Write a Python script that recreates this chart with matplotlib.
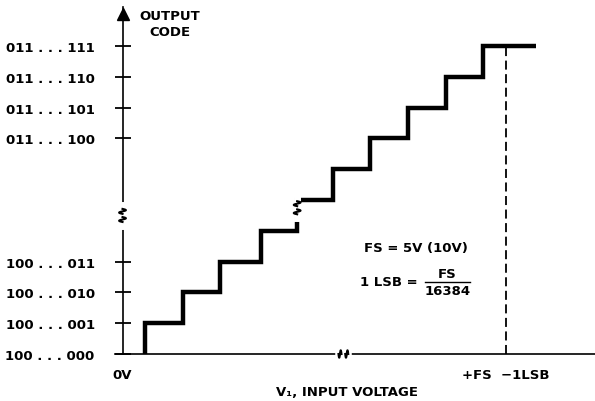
import matplotlib.pyplot as plt
import numpy as np

# staircase: x in LSB, y in code steps
step_edges = [0.6, 1.6, 2.6, 3.7, 4.65, 5.6, 6.6, 7.6, 8.6, 9.6]
step_end = 11.0
code_levels = [0, 1, 2, 3, 4, 5, 6, 7, 8, 9, 10]

ytick_pos = [0, 1, 2, 3, 7, 8, 9, 10]
ytick_labels = ["100 . . . 000", "100 . . . 001", "100 . . . 010", "100 . . . 011",
                "011 . . . 100", "011 . . . 101", "011 . . . 110", "011 . . . 111"]
xtick_pos = [0, 10.2]
xtick_labels = ["0V", "+FS  \u22121LSB"]
fs_line = 10.2

x_break = 5.88
y_break = 4.5
stair_break = (4.65, 4.75)

plt.rcParams['font.family'] = ['DejaVu Sans']
plt.rcParams['font.weight'] = 'bold'

fig = plt.figure(figsize=(5.95, 4.02), dpi=100)
ax = fig.add_axes([115 / 595, 47 / 402, 480 / 595, 347 / 402])
ax.set_xlim(-0.2, 12.58)
ax.set_ylim(0, 11.27)

for s in ["top", "right"]:
    ax.spines[s].set_visible(False)
ax.spines["left"].set_position(("data", 0))
ax.spines["left"].set_linewidth(1.2)
ax.spines["bottom"].set_linewidth(1.2)

ax.set_yticks(ytick_pos)
ax.set_yticklabels(ytick_labels, fontsize=9.5, fontweight="bold")
ax.tick_params(axis="y", direction="inout", length=12, width=1.3, pad=14)
ax.set_xticks(xtick_pos)
ax.set_xticklabels(xtick_labels, fontsize=9.5, fontweight="bold")
ax.tick_params(axis="x", length=0, pad=10)

# arrow head on the y axis
ax.plot([0], [11.05], marker="^", color="black", markersize=8, clip_on=False)

# staircase transfer curve
xs = [step_edges[0]] + step_edges + [step_end]
ys = [0] + code_levels[1:] + [code_levels[-1]]
ax.plot(xs, ys, drawstyle="steps-post", color="black", lw=3.2,
        solid_joinstyle="miter", solid_capstyle="butt")

# full-scale dashed marker
ax.vlines(fs_line, 0, code_levels[-1], colors="black", lw=1.3, linestyles=(0, (5, 2.5)))


def break_mark(x0, y0, along_x, dx=0.09, dy=0.22):
    t = np.linspace(-1, 1, 25)
    if along_x:
        ax.plot([x0 - dx * 1.6, x0 + dx * 1.6], [y0, y0], color="white", lw=4, zorder=3, clip_on=False)
        for off in (-dx, dx):
            ax.plot(x0 + off + 0.04 * t, y0 + 0.12 * np.sin(np.pi * t), color="black", lw=1.5, zorder=4, clip_on=False)
    else:
        ax.plot([x0, x0], [y0 - dy * 1.5, y0 + dy * 1.5], color="white", lw=5, zorder=3)
        for off in (-dy * 0.6, dy * 0.6):
            ax.plot(x0 + 0.09 * np.sin(np.pi * t), y0 + off + 0.08 * t, color="black", lw=1.5, zorder=4)


break_mark(x_break, 0, True)
break_mark(0, y_break, False)
break_mark(stair_break[0], stair_break[1], False)

# annotations
ax.text(7.8, 3.45, "FS = 5V (10V)", ha="center", va="center", fontsize=9.5, fontweight="bold")
ax.text(7.87, 2.35, "1 LSB =", ha="right", va="center", fontsize=9.5, fontweight="bold")
ax.text(8.65, 2.62, "FS", ha="center", va="center", fontsize=9.5, fontweight="bold")
ax.text(8.65, 2.05, "16384", ha="center", va="center", fontsize=9.5, fontweight="bold")
ax.plot([8.05, 9.25], [2.35, 2.35], color="black", lw=1.0)

fig.text(170 / 595, 1 - 16 / 402, "OUTPUT", ha="center", va="center", fontsize=9.5, fontweight="bold")
fig.text(170 / 595, 1 - 32 / 402, "CODE", ha="center", va="center", fontsize=9.5, fontweight="bold")
fig.text(347 / 595, 1 - 393 / 402, "V\u2081, INPUT VOLTAGE", ha="center", va="center",
         fontsize=9.5, fontweight="bold")

fig.savefig("out.png", dpi=100)
